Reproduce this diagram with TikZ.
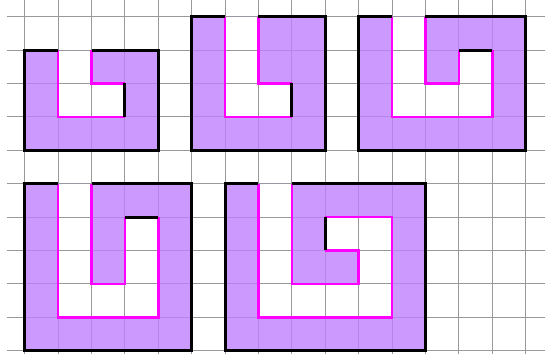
\documentclass[tikz,border=0pt]{standalone}
\definecolor{fillpurple}{RGB}{191,127,255}
\definecolor{edgemag}{RGB}{255,0,255}
\tikzset{
  gridline/.style={draw=black!40, line width=0.9pt},
  region/.style={fill=fillpurple, fill opacity=0.8, even odd rule},
  outer/.style={draw=black, line width=2.6pt, line cap=butt, line join=miter},
  inner/.style={draw=edgemag, line width=2.3pt, line join=miter},
}
\begin{document}
\begin{tikzpicture}[x=1cm,y=1cm]
\useasboundingbox (-0.74,-0.1) rectangle (15.58,10.5);
% grid
\foreach \y in {0,...,10} \draw[gridline] (-0.53,\y) -- (15.6,\y);
\foreach \x in {0,...,15} \draw[gridline] (\x,-0.2) -- (\x,10.6);
% shape 1
\fill[region] (0,6) rectangle (4,9) (1,9) -- (1,7) -- (3,7) -- (3,8) -- (2,8) -- (2,9) -- cycle;
\draw[inner] (1,9) -- (1,7) -- (3,7);
\draw[inner] (2,9) -- (2,8) -- (3,8);
\draw[outer] (1,9) -- (0,9) -- (0,6) -- (4,6) -- (4,9) -- (2,9);
\draw[outer] (3,7) -- (3,8);
% shape 2
\fill[region] (5,6) rectangle (9,10) (6,10) -- (6,7) -- (8,7) -- (8,8) -- (7,8) -- (7,10) -- cycle;
\draw[inner] (6,10) -- (6,7) -- (8,7);
\draw[inner] (7,10) -- (7,8) -- (8,8);
\draw[outer] (6,10) -- (5,10) -- (5,6) -- (9,6) -- (9,10) -- (7,10);
\draw[outer] (8,7) -- (8,8);
% shape 3
\fill[region] (10,6) rectangle (15,10) (11,10) -- (11,7) -- (14,7) -- (14,9) -- (13,9) -- (13,8) -- (12,8) -- (12,10) -- cycle;
\draw[inner] (11,10) -- (11,7) -- (14,7) -- (14,9);
\draw[inner] (12,10) -- (12,8) -- (13,8) -- (13,9);
\draw[outer] (11,10) -- (10,10) -- (10,6) -- (15,6) -- (15,10) -- (12,10);
\draw[outer] (13,9) -- (14,9);
% shape 4
\fill[region] (0,0) rectangle (5,5) (1,5) -- (1,1) -- (4,1) -- (4,4) -- (3,4) -- (3,2) -- (2,2) -- (2,5) -- cycle;
\draw[inner] (1,5) -- (1,1) -- (4,1) -- (4,4);
\draw[inner] (2,5) -- (2,2) -- (3,2) -- (3,4);
\draw[outer] (1,5) -- (0,5) -- (0,0) -- (5,0) -- (5,5) -- (2,5);
\draw[outer] (3,4) -- (4,4);
% shape 5
\fill[region] (6,0) rectangle (12,5) (7,5) -- (7,1) -- (11,1) -- (11,4) -- (9,4) -- (9,3) -- (10,3) -- (10,2) -- (8,2) -- (8,5) -- cycle;
\draw[inner] (7,5) -- (7,1) -- (11,1) -- (11,4) -- (9,4);
\draw[inner] (8,5) -- (8,2) -- (10,2) -- (10,3) -- (9,3);
\draw[outer] (7,5) -- (6,5) -- (6,0) -- (12,0) -- (12,5) -- (8,5);
\draw[outer] (9,3) -- (9,4);
\end{tikzpicture}
\end{document}
